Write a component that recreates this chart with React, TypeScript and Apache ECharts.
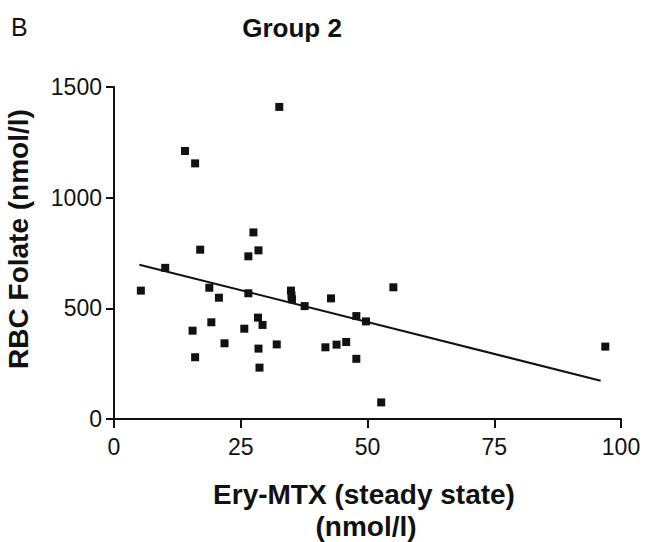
import React, { useEffect, useRef } from "react";
import * as echarts from "echarts";

const xTicks = [0, 25, 50, 75, 100];
const yTicks = [0, 500, 1000, 1500];

const eryMtx = [
  32.6, 14.0, 16.0, 27.5, 17.0, 28.5, 26.5, 10.1, 5.3, 18.8, 20.7, 26.5, 34.9, 35.1, 35.0,
  19.2, 15.5, 28.4, 29.3, 25.7, 21.8, 32.1, 16.0, 28.5, 28.7, 37.6, 42.8, 55.1, 47.8, 49.7,
  41.7, 43.9, 45.8, 47.8, 52.7, 96.9,
];
const rbcFolate = [
  1410, 1211, 1155, 843, 765, 762, 735, 683, 580, 593, 548, 568, 580, 541, 558,
  437, 399, 458, 425, 408, 342, 337, 279, 318, 232, 510, 545, 595, 465, 441,
  324, 336, 348, 272, 75, 327,
];

const fitX = [5, 96];
const fitY = [697, 173];

export default function App() {
  const ref = useRef<HTMLDivElement>(null);
  useEffect(() => {
    if (!ref.current) return;
    const chart = echarts.init(ref.current, null, { renderer: "svg" });
    const font = "'Liberation Sans', Arial, sans-serif";
    chart.setOption({
      animation: false,
      backgroundColor: "#ffffff",
      graphic: [
        {
          type: "text",
          x: 292,
          y: 28,
          style: {
            text: "Group 2",
            fontFamily: font,
            fontSize: 26,
            fontWeight: "bold",
            fill: "#111",
            textAlign: "center",
            textVerticalAlign: "middle",
          },
        },
        {
          type: "text",
          x: 11,
          y: 27,
          style: {
            text: "B",
            fontFamily: font,
            fontSize: 25,
            fontWeight: "normal",
            fill: "#111",
            textAlign: "left",
            textVerticalAlign: "middle",
          },
        },
        {
          type: "text",
          x: 364,
          y: 494,
          style: {
            text: "Ery-MTX (steady state)",
            fontFamily: font,
            fontSize: 28,
            fontWeight: "bold",
            fill: "#111",
            textAlign: "center",
            textVerticalAlign: "middle",
          },
        },
        {
          type: "text",
          x: 366,
          y: 526,
          style: {
            text: "(nmol/l)",
            fontFamily: font,
            fontSize: 28,
            fontWeight: "bold",
            fill: "#111",
            textAlign: "center",
            textVerticalAlign: "middle",
          },
        },
        {
          type: "text",
          x: 18,
          y: 239,
          rotation: Math.PI / 2,
          style: {
            text: "RBC Folate (nmol/l)",
            fontFamily: font,
            fontSize: 28,
            fontWeight: "bold",
            fill: "#111",
            textAlign: "center",
            textVerticalAlign: "middle",
          },
        },
      ],
      grid: { left: 114, right: 32, top: 87, bottom: 123 },
      xAxis: {
        type: "value",
        min: 0,
        max: 100,
        interval: 25,
        axisLine: { show: true, lineStyle: { color: "#111", width: 2 } },
        axisTick: { show: true, length: 9, lineStyle: { color: "#111", width: 2 } },
        axisLabel: {
          fontFamily: font,
          fontSize: 23,
          color: "#111",
          margin: 16,
          formatter: (v: number) => (xTicks.includes(v) ? String(v) : ""),
        },
        splitLine: { show: false },
      },
      yAxis: {
        type: "value",
        min: 0,
        max: 1500,
        interval: 500,
        axisLine: { show: true, lineStyle: { color: "#111", width: 2 } },
        axisTick: { show: true, length: 8, lineStyle: { color: "#111", width: 2 } },
        axisLabel: {
          fontFamily: font,
          fontSize: 23,
          color: "#111",
          margin: 12,
          formatter: (v: number) => (yTicks.includes(v) ? String(v) : ""),
        },
        splitLine: { show: false },
      },
      series: [
        {
          type: "scatter",
          symbol: "rect",
          symbolSize: 8,
          itemStyle: { color: "#111", opacity: 1 },
          data: eryMtx.map((x, i) => [x, rbcFolate[i]]),
          z: 3,
        },
        {
          type: "line",
          symbol: "none",
          lineStyle: { color: "#111", width: 2 },
          data: fitX.map((x, i) => [x, fitY[i]]),
          z: 2,
        },
      ],
    });
    return () => chart.dispose();
  }, []);
  return (
    <div
      ref={ref}
      style={{ position: "fixed", left: 0, top: 0, width: 653, height: 542 }}
    />
  );
}
